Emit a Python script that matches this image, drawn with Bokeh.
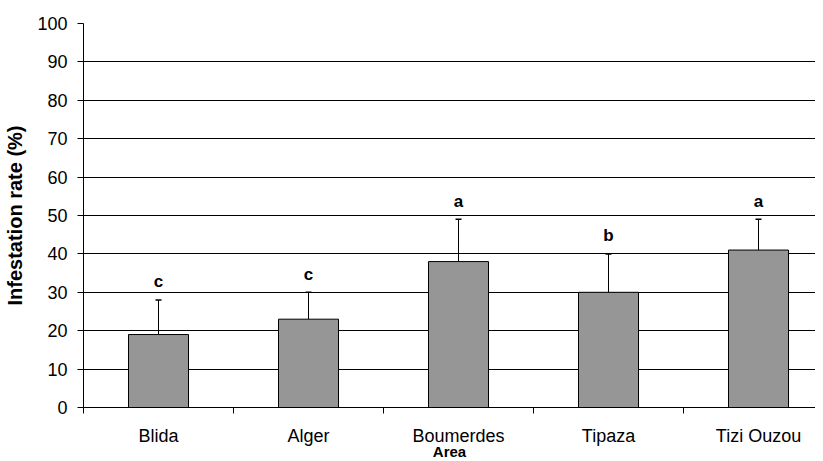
from bokeh.plotting import figure
from bokeh.models import Range1d, FixedTicker, Whisker, TeeHead, ColumnDataSource
from bokeh.core.properties import value
from bokeh.embed import file_html
from bokeh.resources import INLINE

areas = ["Blida", "Alger", "Boumerdes", "Tipaza", "Tizi Ouzou"]
rate = [19, 23, 38, 30, 41]
err = [9, 7, 11, 10, 8]
letters = ["c", "c", "a", "b", "a"]
y_ticks = [0, 10, 20, 30, 40, 50, 60, 70, 80, 90, 100]

FONT = "Liberation Sans"

xs = [i + 0.5 for i in range(len(areas))]
upper = [r + e for r, e in zip(rate, err)]
src = ColumnDataSource(dict(x=xs, rate=rate, upper=upper, letters=letters))

p = figure(frame_width=732, frame_height=384, output_backend="svg", toolbar_location=None,
           x_range=Range1d(0, 4.88), y_range=Range1d(0, 100),
           min_border_left=83, min_border_top=23, min_border_right=0, min_border_bottom=0)
p.outline_line_color = None
p.background_fill_color = "white"
p.border_fill_color = "white"

p.vbar(x="x", top="rate", bottom=0, width=0.4, source=src,
       fill_color="#969696", line_color="black", line_width=1)

w = Whisker(base="x", lower="rate", upper="upper", source=src, dimension="height",
            line_color="black", line_width=1,
            upper_head=TeeHead(size=6, line_color="black", line_width=1.5),
            lower_head=None)
p.add_layout(w)

p.text(x="x", y="upper", text="letters", source=src, y_offset=-18,
       text_align="center", text_baseline="alphabetic",
       text_font_size="17px", text_font_style="bold", text_font=value(FONT),
       text_color="black")

# x axis
p.xaxis.ticker = FixedTicker(ticks=xs, minor_ticks=list(range(len(areas) + 1)))
p.xaxis.major_label_overrides = {x: a for x, a in zip(xs, areas)}
p.xaxis.major_tick_out = 0
p.xaxis.major_tick_in = 0
p.xaxis.minor_tick_out = 6
p.xaxis.minor_tick_in = 0
p.xaxis.minor_tick_line_color = "black"
p.xaxis.axis_line_color = "black"
p.xaxis.major_label_text_font = FONT
p.xaxis.major_label_text_font_size = "18px"
p.xaxis.major_label_text_color = "black"
p.xaxis.major_label_standoff = 12
p.xaxis.axis_label = "Area"
p.xaxis.axis_label_text_font = FONT
p.xaxis.axis_label_text_font_size = "15px"
p.xaxis.axis_label_text_font_style = "bold"
p.xaxis.axis_label_text_color = "black"
p.xaxis.axis_label_standoff = -6
p.xgrid.grid_line_color = None

# y axis
p.yaxis.ticker = FixedTicker(ticks=y_ticks)
p.yaxis.major_tick_out = 6
p.yaxis.major_tick_in = 0
p.yaxis.minor_tick_line_color = None
p.yaxis.axis_line_color = "black"
p.yaxis.major_tick_line_color = "black"
p.yaxis.major_label_text_font = FONT
p.yaxis.major_label_text_font_size = "18px"
p.yaxis.major_label_text_color = "black"
p.yaxis.major_label_standoff = 10
p.yaxis.axis_label = "Infestation rate (%)"
p.yaxis.axis_label_text_font = FONT
p.yaxis.axis_label_text_font_size = "20px"
p.yaxis.axis_label_text_font_style = "bold"
p.yaxis.axis_label_text_color = "black"
p.yaxis.axis_label_standoff = 8
p.ygrid.grid_line_color = "black"
p.ygrid.grid_line_width = 1

open("out.html", "w").write(file_html(p, INLINE))
